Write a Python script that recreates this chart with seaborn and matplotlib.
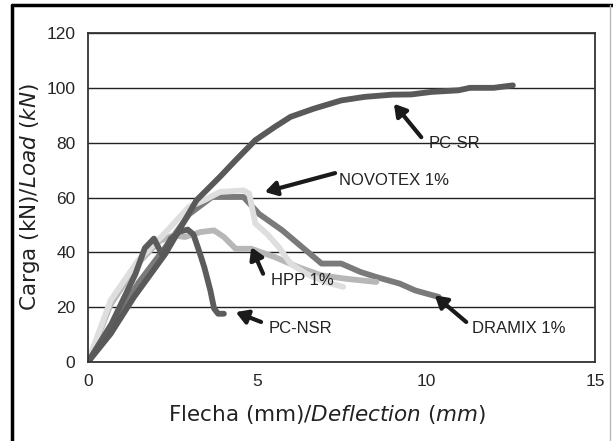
import pandas as pd
import matplotlib
matplotlib.use("Agg")
import matplotlib.pyplot as plt
import seaborn as sns
from matplotlib.lines import Line2D

# Load-deflection curves
pc_sr_x = [0, 0.67, 1.36, 2.29, 3.21, 3.9, 4.37, 4.95, 5.52, 5.99, 6.68, 7.49, 8.18, 8.99, 9.57, 10.15, 10.96, 11.3, 12.0, 12.57]
pc_sr_y = [0, 10.3, 23.7, 39.5, 59, 67.5, 73.6, 80.9, 85.7, 89.4, 92.4, 95.4, 96.7, 97.5, 97.6, 98.5, 99.1, 100, 100, 100.9]

pc_nsr_x = [0, 0.7, 1.4, 1.68, 1.95, 2.2, 2.45, 2.7, 2.95, 3.12, 3.3, 3.44, 3.62, 3.73, 3.85, 4.02]
pc_nsr_y = [0, 14, 32, 41.5, 45, 39, 45, 47.5, 48.3, 46.5, 40, 34.6, 26.1, 19.5, 17.6, 17.6]

dramix_x = [0, 0.7, 1.5, 2.3, 3.0, 3.67, 4.6, 5.06, 5.75, 6.45, 6.91, 7.49, 8.07, 8.53, 9.22, 9.68, 10.38]
dramix_y = [0, 13, 29, 42, 54, 60.2, 60.2, 54, 48, 40.7, 35.9, 35.9, 32.8, 31, 28.6, 26.1, 23.7]

novotex_x = [0, 0.67, 1.48, 2.2, 2.98, 3.44, 3.9, 4.6, 4.77, 4.95, 5.29, 5.64, 5.99, 6.45, 7.03, 7.55]
novotex_y = [0, 22.5, 37, 46, 56.5, 59, 62, 62.6, 61.4, 50.5, 46.8, 42, 35.9, 32.2, 29.2, 27.4]

hpp_x = [0, 0.67, 1.48, 2.1, 2.52, 2.87, 3.33, 3.73, 4.02, 4.37, 4.83, 5.52, 6.22, 6.91, 7.6, 8.53]
hpp_y = [0, 21, 36, 44, 46.2, 45.6, 47.4, 48, 45.6, 41.3, 41.3, 38.3, 34.6, 31.6, 30.4, 29.2]

series = {
    "DRAMIX 1%": (dramix_x, dramix_y, "#7a7a7a"),
    "HPP 1%": (hpp_x, hpp_y, "#b7b7b7"),
    "NOVOTEX 1%": (novotex_x, novotex_y, "#dedede"),
    "PC-NSR": (pc_nsr_x, pc_nsr_y, "#5c5c5c"),
    "PC-SR": (pc_sr_x, pc_sr_y, "#595959"),
}

# label text position, arrow tail, arrow head
annotations = [
    ("PC-SR", (10.09, 79.6), (9.86, 82.0), (9.05, 94.2)),
    ("NOVOTEX 1%", (7.43, 66.3), (7.31, 68.9), (5.23, 62.0)),
    ("HPP 1%", (5.41, 29.8), (5.18, 32.2), (4.83, 41.9)),
    ("PC-NSR", (5.33, 12.2), (5.12, 14.6), (4.37, 18.2)),
    ("DRAMIX 1%", (11.36, 12.2), (11.19, 14.6), (10.26, 24.3)),
]

NARROW = ["Liberation Sans", "DejaVu Sans"]

sns.set_style("white")
plt.rcParams["font.family"] = ["DejaVu Sans"]
plt.rcParams["mathtext.fontset"] = "dejavusans"

fig = plt.figure(figsize=(6.13, 4.41), dpi=100)
ax = fig.add_axes([88 / 613, 79 / 441, 507 / 613, 329 / 441])

for name, (xs, ys, color) in series.items():
    df = pd.DataFrame({"x": xs, "y": ys})
    sns.lineplot(data=df, x="x", y="y", sort=False, color=color, lw=4.2,
                 ax=ax, solid_capstyle="round", solid_joinstyle="round")

for text, tpos, tail, head in annotations:
    ax.annotate("", xy=head, xytext=tail,
                arrowprops=dict(arrowstyle="-|>,head_length=0.7,head_width=0.42",
                                color="#1a1a1a", lw=3, shrinkA=0, shrinkB=0))
    ax.text(tpos[0], tpos[1], text, fontsize=12, va="center", ha="left",
            family=NARROW, color="#222222")

ax.set_xlim(0, 15)
ax.set_ylim(0, 120)
ax.set_xticks([0, 5, 10, 15])
ax.set_yticks([0, 20, 40, 60, 80, 100, 120])
ax.yaxis.grid(True, color="#222222", lw=1)
ax.set_axisbelow(True)
for s in ax.spines.values():
    s.set_color("#333333")
    s.set_linewidth(1.3)
ax.tick_params(axis="both", direction="out", length=5, width=1, color="#333333",
               labelsize=12.5, pad=4)
for lab in ax.get_xticklabels() + ax.get_yticklabels():
    lab.set_family(NARROW)

ax.set_xlabel(r"Flecha (mm)/$\it{Deflection\ (mm)}$", fontsize=15.5, color="#222222")
ax.set_ylabel(r"Carga (kN)/$\it{Load\ (kN)}$", fontsize=15.5, color="#222222")
ax.xaxis.set_label_coords(0.471, -0.125)
ax.yaxis.set_label_coords(-0.09, 0.5)

# outer frame: black left and top edges, light edge at the right
W, H = 613, 441
fig.lines.append(Line2D([12 / W, 12 / W], [0, 1 - 5 / H], transform=fig.transFigure,
                        color="black", lw=2.5))
fig.lines.append(Line2D([12 / W, 1], [1 - 5 / H, 1 - 5 / H], transform=fig.transFigure,
                        color="black", lw=2.5))
fig.lines.append(Line2D([610 / W, 610 / W], [0, 1 - 5 / H], transform=fig.transFigure,
                        color="#bbbbbb", lw=1))

fig.savefig("out.png", dpi=100)
